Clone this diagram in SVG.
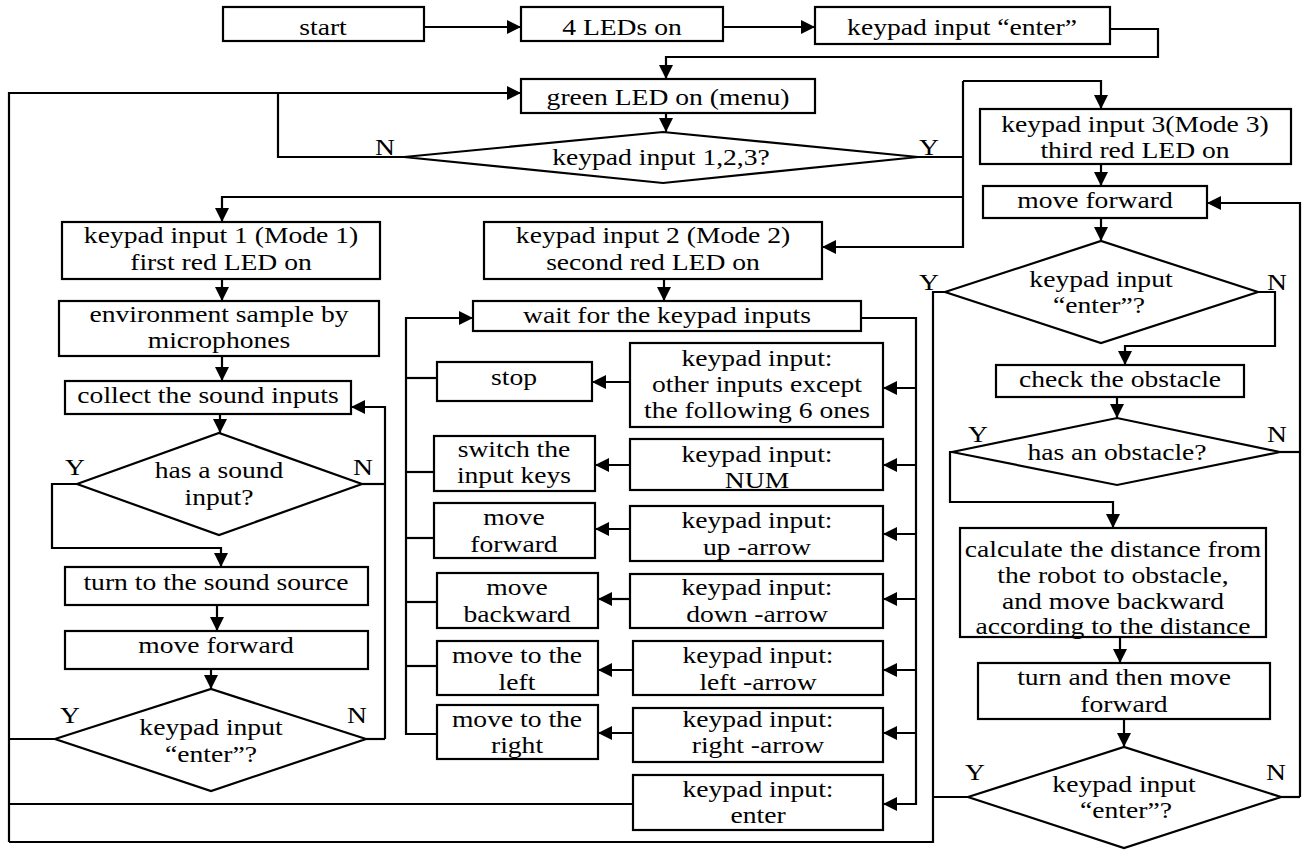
<svg xmlns="http://www.w3.org/2000/svg" width="1307" height="850" viewBox="0 0 1307 850">
<defs>
<marker id="ah" markerWidth="14" markerHeight="14" refX="14" refY="7" orient="auto" markerUnits="userSpaceOnUse"><path d="M0,0 L14,7 L0,14 z" fill="#000"/></marker>
</defs>
<style>
.b{fill:#fff;stroke:#000;stroke-width:2.2}
.t{font-family:"Liberation Serif","Times New Roman",serif;font-size:23px;fill:#000;text-anchor:middle}
.c{fill:none;stroke:#000;stroke-width:2.2}
.a{marker-end:url(#ah)}
</style>
<rect width="1307" height="850" fill="#fff"/>
<g id="connectors">
<path class="c a" d="M424,27 H521"/>
<path class="c a" d="M723,27 H815"/>
<path class="c a" d="M1110,29 H1158 V57 H666 V79"/>
<path class="c a" d="M666,113 V132"/>
<path class="c a" d="M9,842 V93 H521"/>
<path class="c" d="M404,157 H278 V93"/>
<path class="c" d="M918,157 H963"/>
<path class="c a" d="M963,81 V247 H822"/>
<path class="c a" d="M963,81 H1101 V109"/>
<path class="c a" d="M963,197 H222 V222"/>
<path class="c a" d="M1101,164 V186"/>
<path class="c a" d="M1101,218 V241"/>
<path class="c a" d="M1258,292 H1275 V346 H1125 V365"/>
<path class="c" d="M945,292 H933 V842 H9"/>
<path class="c a" d="M1117,397 V418"/>
<path class="c" d="M1280,452 H1300"/>
<path class="c a" d="M1300,797 V203 H1207"/>
<path class="c a" d="M952,452 H950 V502 H1113 V528"/>
<path class="c a" d="M1120,637 V663"/>
<path class="c a" d="M1124,719 V747"/>
<path class="c" d="M1281,797 H1300"/>
<path class="c" d="M968,797 H933"/>
<path class="c a" d="M222,279 V301"/>
<path class="c a" d="M222,356 V381"/>
<path class="c a" d="M220,414 V433"/>
<path class="c" d="M362,484 H385"/>
<path class="c a" d="M385,739 V407 H351"/>
<path class="c a" d="M77,484 H52 V548 H221 V567"/>
<path class="c a" d="M217,605 V631"/>
<path class="c a" d="M211,669 V689"/>
<path class="c" d="M366,739 H385"/>
<path class="c" d="M55,739 H9"/>
<path class="c a" d="M664,279 V301"/>
<path class="c a" d="M861,318 H916 V804 H883"/>
<path class="c a" d="M916,388 H883"/>
<path class="c a" d="M916,465 H883"/>
<path class="c a" d="M916,534 H883"/>
<path class="c a" d="M916,599 H883"/>
<path class="c a" d="M916,670 H883"/>
<path class="c a" d="M916,733 H883"/>
<path class="c a" d="M630,382 H592"/>
<path class="c a" d="M630,465 H595"/>
<path class="c a" d="M630,529 H595"/>
<path class="c a" d="M630,599 H598"/>
<path class="c a" d="M633,670 H598"/>
<path class="c a" d="M633,733 H598"/>
<path class="c a" d="M437,734 H406 V318 H473"/>
<path class="c" d="M437,378 H406"/>
<path class="c" d="M434,472 H406"/>
<path class="c" d="M434,538 H406"/>
<path class="c" d="M437,602 H406"/>
<path class="c" d="M437,666 H406"/>
<path class="c" d="M633,804 H9"/>
</g>
<g id="start"><rect class="b" x="223" y="7" width="201" height="34"/><text class="t" transform="translate(323,0) scale(1.2,1)" y="35">start</text></g>
<g id="leds"><rect class="b" x="521" y="7" width="202" height="34"/><text class="t" transform="translate(622,0) scale(1.2,1)" y="35">4 LEDs on</text></g>
<g id="enter0"><rect class="b" x="815" y="7" width="295" height="37"/><text class="t" transform="translate(962,0) scale(1.2,1)" y="35">keypad input “enter”</text></g>
<g id="menu"><rect class="b" x="521" y="79" width="294" height="34"/><text class="t" transform="translate(668,0) scale(1.2,1)" y="105">green LED on (menu)</text></g>
<g id="d123"><polygon class="b" points="404,157 663,132 918,157 663,183"/><text class="t" transform="translate(661,0) scale(1.2,1)" y="165">keypad input 1,2,3?</text></g>
<g id="lblN0"><text class="t" transform="translate(385,0) scale(1.2,1)" y="155">N</text></g>
<g id="lblY0"><text class="t" transform="translate(929,0) scale(1.2,1)" y="155">Y</text></g>
<g id="mode1"><rect class="b" x="62" y="222" width="318" height="57"/><text class="t" transform="translate(221,0) scale(1.2,1)" y="243">keypad input 1 (Mode 1)</text><text class="t" transform="translate(221,0) scale(1.2,1)" y="270">first red LED on</text></g>
<g id="env"><rect class="b" x="59" y="301" width="320" height="55"/><text class="t" transform="translate(219,0) scale(1.2,1)" y="322">environment sample by</text><text class="t" transform="translate(219,0) scale(1.2,1)" y="348">microphones</text></g>
<g id="collect"><rect class="b" x="65" y="381" width="286" height="33"/><text class="t" transform="translate(208,0) scale(1.2,1)" y="403">collect the sound inputs</text></g>
<g id="dsound"><polygon class="b" points="77,484 219,433 362,484 219,535"/><text class="t" transform="translate(219,0) scale(1.2,1)" y="478">has a sound</text><text class="t" transform="translate(219,0) scale(1.2,1)" y="505">input?</text></g>
<g id="lblYs"><text class="t" transform="translate(75,0) scale(1.2,1)" y="475">Y</text></g>
<g id="lblNs"><text class="t" transform="translate(363,0) scale(1.2,1)" y="475">N</text></g>
<g id="turn"><rect class="b" x="65" y="567" width="303" height="38"/><text class="t" transform="translate(216,0) scale(1.2,1)" y="590">turn to the sound source</text></g>
<g id="fwd1"><rect class="b" x="65" y="631" width="303" height="38"/><text class="t" transform="translate(216,0) scale(1.2,1)" y="653">move forward</text></g>
<g id="denter1"><polygon class="b" points="55,739 211,689 366,739 211,791"/><text class="t" transform="translate(211,0) scale(1.2,1)" y="735">keypad input</text><text class="t" transform="translate(211,0) scale(1.2,1)" y="762">“enter”?</text></g>
<g id="lblYe1"><text class="t" transform="translate(70,0) scale(1.2,1)" y="723">Y</text></g>
<g id="lblNe1"><text class="t" transform="translate(357,0) scale(1.2,1)" y="723">N</text></g>
<g id="mode2"><rect class="b" x="484" y="222" width="338" height="57"/><text class="t" transform="translate(653,0) scale(1.2,1)" y="243">keypad input 2 (Mode 2)</text><text class="t" transform="translate(653,0) scale(1.2,1)" y="270">second red LED on</text></g>
<g id="wait"><rect class="b" x="473" y="301" width="388" height="30"/><text class="t" transform="translate(667,0) scale(1.2,1)" y="323">wait for the keypad inputs</text></g>
<g id="stop"><rect class="b" x="437" y="362" width="155" height="39"/><text class="t" transform="translate(514,0) scale(1.2,1)" y="385">stop</text></g>
<g id="other"><rect class="b" x="630" y="343" width="253" height="84"/><text class="t" transform="translate(757,0) scale(1.2,1)" y="366">keypad input:</text><text class="t" transform="translate(757,0) scale(1.2,1)" y="392">other inputs except</text><text class="t" transform="translate(757,0) scale(1.2,1)" y="418">the following 6 ones</text></g>
<g id="switch"><rect class="b" x="434" y="436" width="161" height="55"/><text class="t" transform="translate(514,0) scale(1.2,1)" y="457">switch the</text><text class="t" transform="translate(514,0) scale(1.2,1)" y="483">input keys</text></g>
<g id="num"><rect class="b" x="630" y="439" width="253" height="51"/><text class="t" transform="translate(757,0) scale(1.2,1)" y="462">keypad input:</text><text class="t" transform="translate(757,0) scale(1.2,1)" y="488">NUM</text></g>
<g id="fwd2"><rect class="b" x="434" y="503" width="161" height="55"/><text class="t" transform="translate(514,0) scale(1.2,1)" y="525">move</text><text class="t" transform="translate(514,0) scale(1.2,1)" y="552">forward</text></g>
<g id="up"><rect class="b" x="630" y="506" width="253" height="55"/><text class="t" transform="translate(757,0) scale(1.2,1)" y="528">keypad input:</text><text class="t" transform="translate(757,0) scale(1.2,1)" y="555">up -arrow</text></g>
<g id="back"><rect class="b" x="437" y="573" width="161" height="55"/><text class="t" transform="translate(517,0) scale(1.2,1)" y="595">move</text><text class="t" transform="translate(517,0) scale(1.2,1)" y="622">backward</text></g>
<g id="down"><rect class="b" x="630" y="574" width="253" height="54"/><text class="t" transform="translate(757,0) scale(1.2,1)" y="595">keypad input:</text><text class="t" transform="translate(757,0) scale(1.2,1)" y="622">down -arrow</text></g>
<g id="left"><rect class="b" x="437" y="641" width="161" height="54"/><text class="t" transform="translate(517,0) scale(1.2,1)" y="663">move to the</text><text class="t" transform="translate(517,0) scale(1.2,1)" y="690">left</text></g>
<g id="leftkey"><rect class="b" x="633" y="641" width="250" height="54"/><text class="t" transform="translate(758,0) scale(1.2,1)" y="663">keypad input:</text><text class="t" transform="translate(758,0) scale(1.2,1)" y="690">left -arrow</text></g>
<g id="right"><rect class="b" x="437" y="705" width="161" height="54"/><text class="t" transform="translate(517,0) scale(1.2,1)" y="727">move to the</text><text class="t" transform="translate(517,0) scale(1.2,1)" y="753">right</text></g>
<g id="rightkey"><rect class="b" x="633" y="708" width="250" height="54"/><text class="t" transform="translate(758,0) scale(1.2,1)" y="727">keypad input:</text><text class="t" transform="translate(758,0) scale(1.2,1)" y="753">right -arrow</text></g>
<g id="enterkey"><rect class="b" x="633" y="775" width="250" height="55"/><text class="t" transform="translate(758,0) scale(1.2,1)" y="797">keypad input:</text><text class="t" transform="translate(758,0) scale(1.2,1)" y="823">enter</text></g>
<g id="mode3"><rect class="b" x="980" y="109" width="311" height="55"/><text class="t" transform="translate(1135,0) scale(1.2,1)" y="132">keypad input 3(Mode 3)</text><text class="t" transform="translate(1135,0) scale(1.2,1)" y="158">third red LED on</text></g>
<g id="fwd3"><rect class="b" x="983" y="186" width="224" height="32"/><text class="t" transform="translate(1095,0) scale(1.2,1)" y="208">move forward</text></g>
<g id="denter2"><polygon class="b" points="945,292 1101,241 1258,292 1101,343"/><text class="t" transform="translate(1101,0) scale(1.2,1)" y="287">keypad input</text><text class="t" transform="translate(1099,0) scale(1.2,1)" y="313">“enter”?</text></g>
<g id="lblYe2"><text class="t" transform="translate(929,0) scale(1.2,1)" y="290">Y</text></g>
<g id="lblNe2"><text class="t" transform="translate(1277,0) scale(1.2,1)" y="290">N</text></g>
<g id="check"><rect class="b" x="996" y="365" width="248" height="32"/><text class="t" transform="translate(1120,0) scale(1.2,1)" y="387">check the obstacle</text></g>
<g id="dobs"><polygon class="b" points="952,452 1117,418 1280,452 1117,485"/><text class="t" transform="translate(1117,0) scale(1.2,1)" y="460">has an obstacle?</text></g>
<g id="lblYo"><text class="t" transform="translate(978,0) scale(1.2,1)" y="442">Y</text></g>
<g id="lblNo"><text class="t" transform="translate(1277,0) scale(1.2,1)" y="442">N</text></g>
<g id="calc"><rect class="b" x="960" y="528" width="306" height="109"/><text class="t" transform="translate(1113,0) scale(1.2,1)" y="557">calculate the distance from</text><text class="t" transform="translate(1113,0) scale(1.2,1)" y="583">the robot to obstacle,</text><text class="t" transform="translate(1113,0) scale(1.2,1)" y="609">and move backward</text><text class="t" transform="translate(1113,0) scale(1.2,1)" y="634">according to the distance</text></g>
<g id="turn3"><rect class="b" x="978" y="663" width="292" height="56"/><text class="t" transform="translate(1124,0) scale(1.2,1)" y="685">turn and then move</text><text class="t" transform="translate(1124,0) scale(1.2,1)" y="712">forward</text></g>
<g id="denter3"><polygon class="b" points="968,797 1124,747 1281,797 1124,848"/><text class="t" transform="translate(1124,0) scale(1.2,1)" y="792">keypad input</text><text class="t" transform="translate(1126,0) scale(1.2,1)" y="818">“enter”?</text></g>
<g id="lblYe3"><text class="t" transform="translate(975,0) scale(1.2,1)" y="780">Y</text></g>
<g id="lblNe3"><text class="t" transform="translate(1276,0) scale(1.2,1)" y="780">N</text></g>
</svg>
